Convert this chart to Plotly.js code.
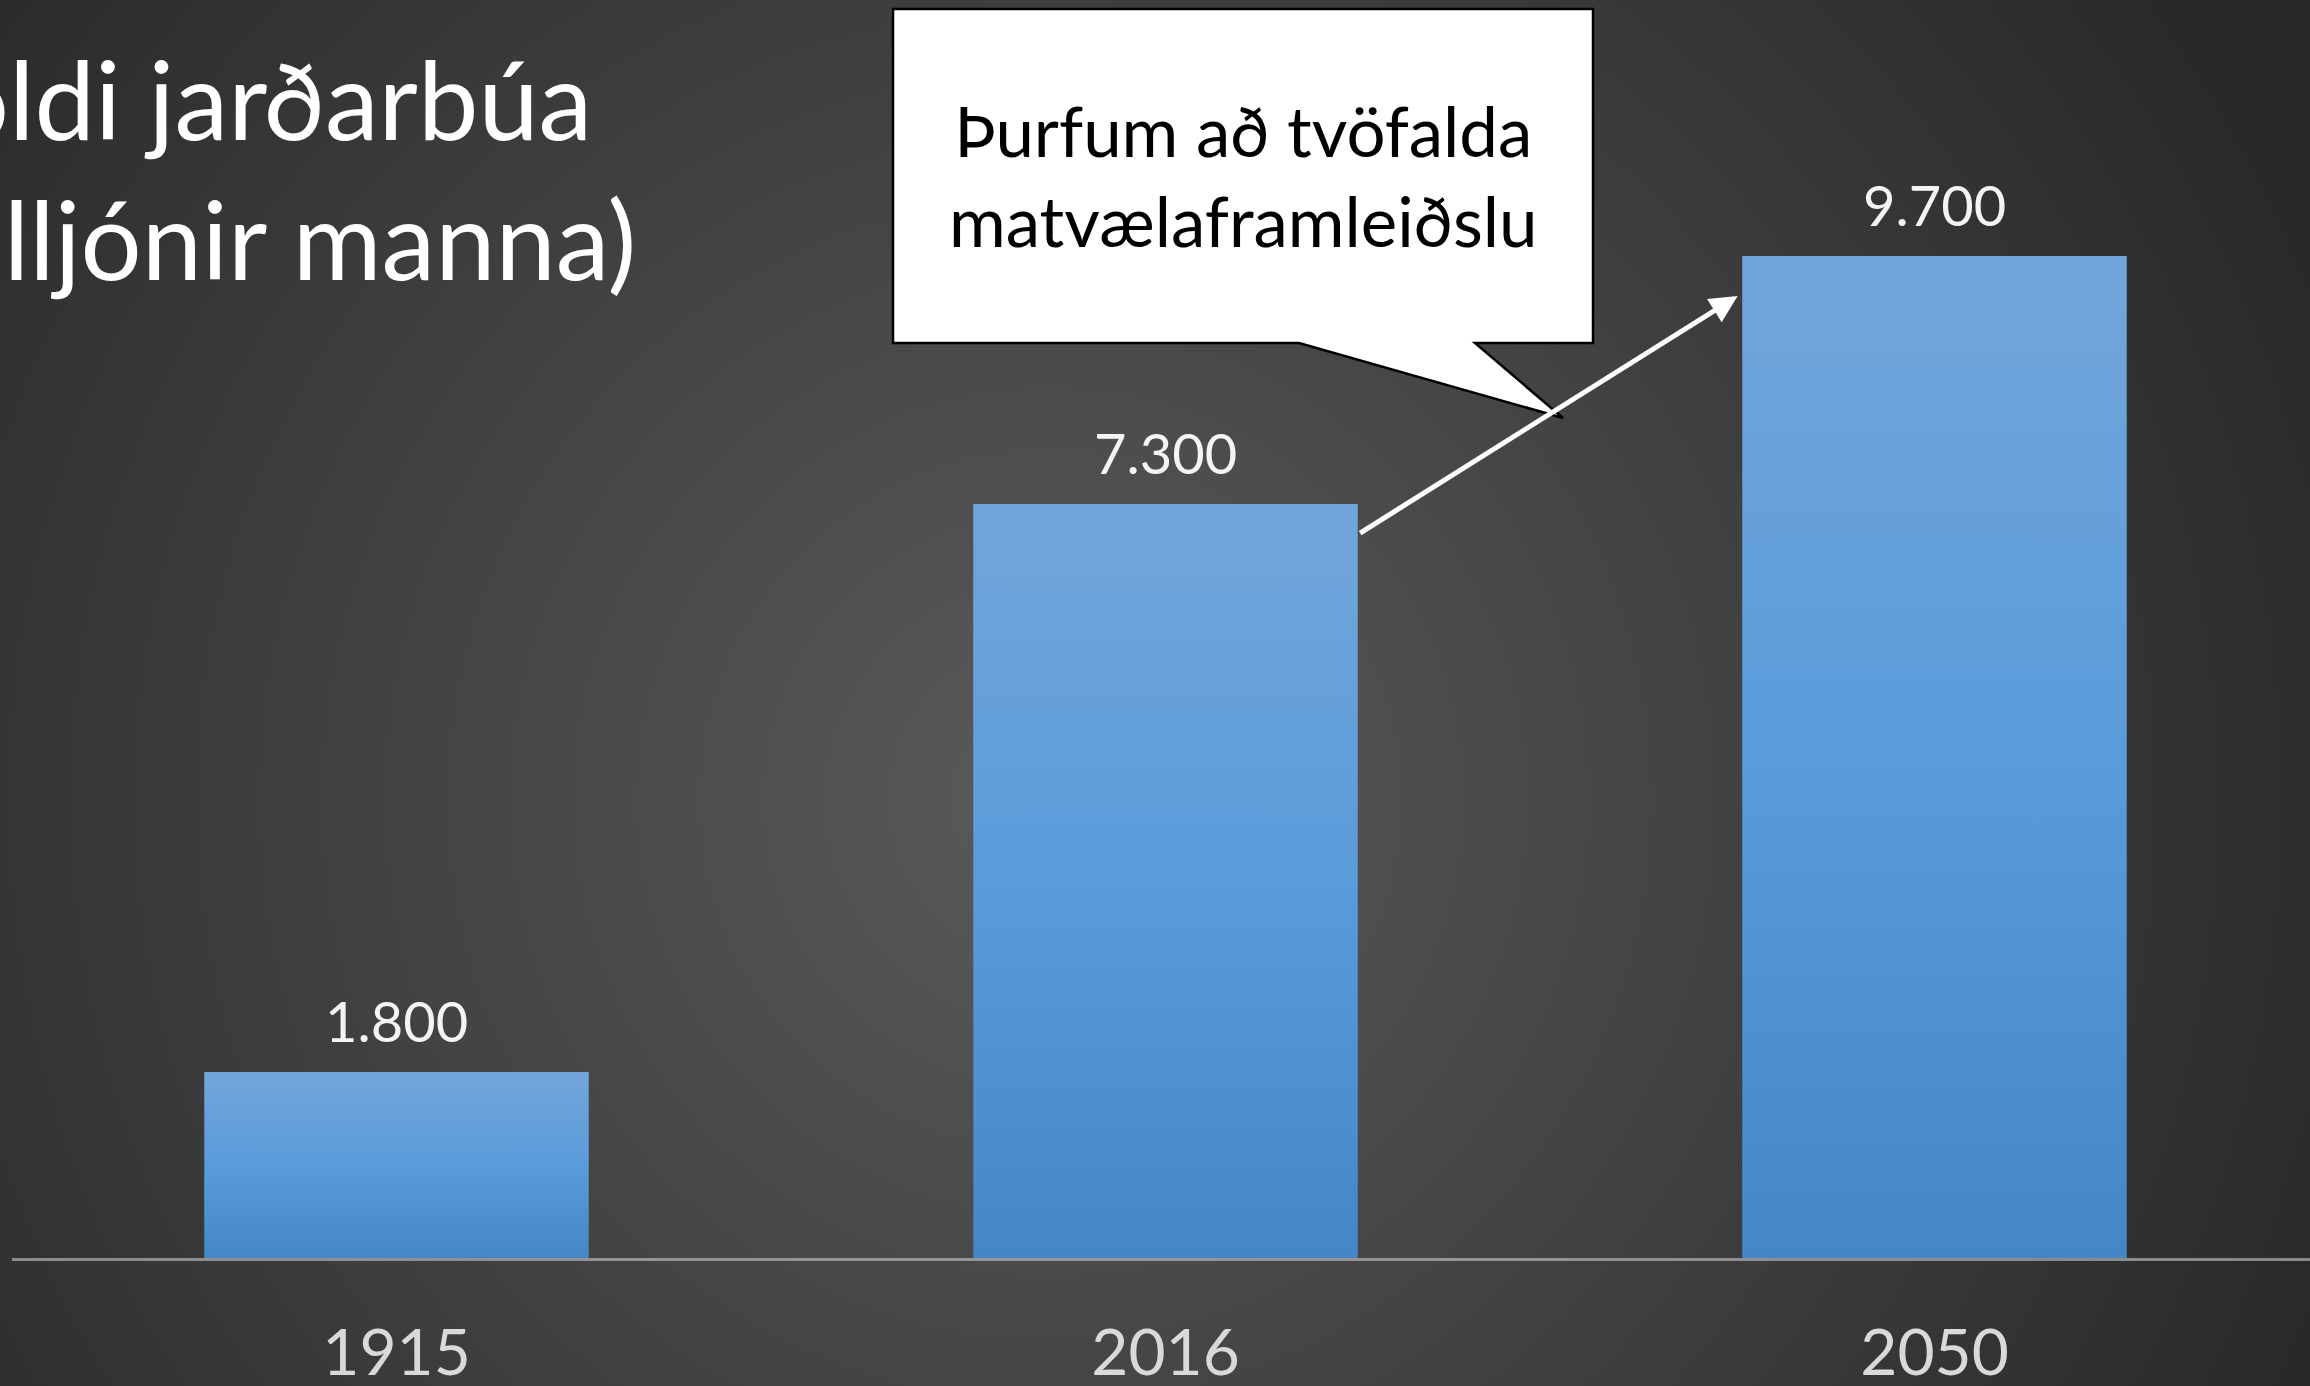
<!DOCTYPE html>
<html>
<head>
<meta charset="utf-8">
<script src="https://cdn.plot.ly/plotly-3.0.1.min.js"></script>
<style>
  html, body { margin: 0; padding: 0; width: 2310px; height: 1386px; overflow: hidden; }
  body { background: radial-gradient(circle 1400px at 1050px 800px, #5a5a5a 0%, #282828 100%); }
  #chart { width: 2310px; height: 1386px; }
</style>
</head>
<body>
<svg width="0" height="0" style="position:absolute">
  <defs>
    <linearGradient id="barGrad" x1="0" y1="0" x2="0" y2="1">
      <stop offset="0" stop-color="#72A6DA"/>
      <stop offset="0.5" stop-color="#5A9BDB"/>
      <stop offset="1" stop-color="#4486C6"/>
    </linearGradient>
  </defs>
</svg>
<div id="chart"></div>
<script>
// ---- data ----
const years = ["1915", "2016", "2050"];
const population = [1800, 7300, 9700];   // milljónir manna
const titleLines = ["Fjöldi jarðarbúa", "(milljónir manna)"];
const calloutLines = ["Þurfum að tvöfalda", "matvælaframleiðslu"];

// ---- layout geometry ----
const W = 2310, H = 1386;
const M = { l: 12, r: 0, t: 0, b: 128 };
const PW = W - M.l - M.r, PH = H - M.t - M.b;
const px2x = px => (px - M.l) / PW;
const px2y = py => (PH + M.t - py) / PH;

const fmt = v => String(v).replace(/\B(?=(\d{3})+(?!\d))/g, ".");
const FONT = "Lato, 'Open Sans', sans-serif";

const barTrace = {
  type: "bar",
  x: years,
  y: population,
  width: 0.5,
  marker: { color: "#5A9AD6", line: { width: 0 } },
  hoverinfo: "skip"
};

const annotations = [];
// data labels (x given as category index)
years.forEach((yr, i) => {
  annotations.push({
    x: i, y: population[i], xref: "x", yref: "y",
    text: fmt(population[i]), showarrow: false,
    xanchor: "center", yanchor: "bottom", yshift: 16,
    font: { family: FONT, size: 56, color: "#F4F4F4" }
  });
});
// title (cut at the left edge as in the slide)
annotations.push({
  xref: "paper", yref: "paper",
  x: px2x(-141), y: px2y(31),
  xanchor: "left", yanchor: "top", align: "left",
  text: titleLines.join("<br>"), showarrow: false,
  font: { family: FONT, size: 108, color: "#FFFFFF" }
});
// callout text
annotations.push({
  xref: "paper", yref: "paper",
  x: px2x(1243), y: px2y(176),
  xanchor: "center", yanchor: "middle", align: "center",
  text: calloutLines.join("<br>"), showarrow: false,
  font: { family: FONT, size: 69, color: "#000000" }
});
// arrow from 2016 bar towards 2050 bar
annotations.push({
  xref: "x", yref: "y",
  x: 1.744, y: 9313,
  ax: -379, ay: 238,
  text: "", showarrow: true,
  arrowhead: 2, arrowsize: 1.1, arrowwidth: 5, arrowcolor: "#FFFFFF",
  standoff: 0, startstandoff: 0
});

// callout box with pointer
const pts = [[893, 9], [1593, 9], [1593, 343], [1475, 343], [1563, 418], [1299, 343], [893, 343]];
const calloutPath = "M " + pts.map(p => px2x(p[0]).toFixed(5) + "," + px2y(p[1]).toFixed(5)).join(" L ") + " Z";

const layout = {
  width: W, height: H,
  margin: M,
  paper_bgcolor: "rgba(0,0,0,0)",
  plot_bgcolor: "rgba(0,0,0,0)",
  showlegend: false,
  bargap: 0.5,
  xaxis: {
    type: "category",
    range: [-0.5, -0.5 + PW / 769],
    showgrid: false, zeroline: false,
    showline: true, linecolor: "rgba(200,200,200,0.6)", linewidth: 3,
    ticks: "",
    ticklabelstandoff: 37,
    tickfont: { family: FONT, size: 64, color: "#D9D9D9" },
    fixedrange: true
  },
  yaxis: {
    range: [0, PH / 0.1033],
    visible: false, showgrid: false, zeroline: false,
    fixedrange: true
  },
  shapes: [{
    type: "path", xref: "paper", yref: "paper",
    path: calloutPath,
    fillcolor: "#FFFFFF",
    line: { color: "#000000", width: 2.5 },
    layer: "above"
  }],
  annotations: annotations
};

Plotly.newPlot("chart", [barTrace], layout, { displayModeBar: false, staticPlot: true }).then(gd => {
  gd.querySelectorAll(".trace.bars .point path").forEach(p => { p.style.fill = "url(#barGrad)"; });
});
</script>
</body>
</html>
